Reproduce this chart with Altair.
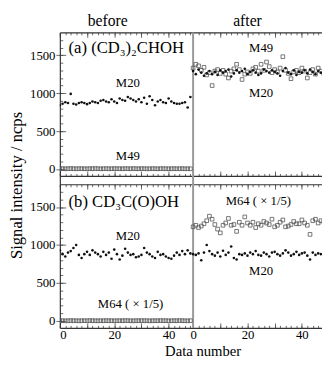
import altair as alt
import pandas as pd

FONT = "Liberation Serif"
OFFSET = 49          # "after" panel starts at combined x = 49
XMAX = 96.4          # right edge of the visible (cropped) plot
SHIFT = 2000         # panel (a) sits above panel (b) on one shared y scale
W, H = 268, 302
YMIN, YMAX = -90, 1800
UNIT = H / (SHIFT + YMAX - YMIN)          # pixels per y unit
PANEL_H = (YMAX - YMIN) * UNIT            # height of one panel in pixels

idx = list(range(49))

# ---------------- (a) (CD3)2CHOH ----------------
a_before_M20 = [840, 860, 880, 870, 990, 860, 850, 870, 880, 870,
                855, 870, 890, 880, 870, 900, 910, 890, 880, 920,
                890, 870, 930, 910, 900, 950, 930, 910, 890, 920,
                880, 940, 860, 960, 910, 840, 890, 910, 880, 870,
                930, 890, 870, 860, 860, 870, 880, 810, 950]
a_before_M49 = [5, 6, 4, 5, 7, 5, 4, 6, 5, 5,
                4, 6, 5, 7, 5, 4, 5, 6, 4, 5,
                6, 5, 5, 4, 6, 5, 4, 7, 5, 4,
                6, 5, 4, 4, 6, 5, 4, 5, 6, 4,
                5, 4, 6, 4, 5, 6, 4, 5, 4]
a_after_M20 = [1290, 1250, 1310, 1270, 1230, 1260, 1290, 1250, 1280, 1240,
               1300, 1270, 1290, 1310, 1220, 1260, 1300, 1270, 1290, 1320,
               1250, 1280, 1300, 1270, 1240, 1260, 1310, 1290, 1270, 1300,
               1280, 1260, 1230, 1290, 1330, 1270, 1250, 1300, 1240, 1280,
               1270, 1300, 1260, 1310, 1280, 1250, 1290, 1270, 1260]
a_after_M49 = [1330, 1380, 1360, 1300, 1340, 1240, 1270, 1100, 1290, 1310,
               1260, 1300, 1250, 1200, 1290, 1320, 1380, 1310, 1180, 1250,
               1280, 1260, 1320, 1340, 1290, 1380, 1300, 1410, 1350, 1270,
               1310, 1280, 1330, 1480, 1300, 1260, 1190, 1280, 1300, 1270,
               1330, 1290, 1200, 1270, 1310, 1250, 1330, 1290, 1260]

# ---------------- (b) CD3C(O)OH ----------------
b_before_M20 = [930, 880, 850, 900, 920, 960, 1000, 870, 830, 880,
                910, 870, 930, 900, 880, 850, 910, 870, 900, 820,
                940, 880, 810, 860, 950, 900, 870, 880, 840, 850,
                870, 960, 900, 880, 850, 830, 910, 870, 880, 850,
                830, 820, 860, 900, 870, 920, 880, 930, 890]
b_before_M64 = [3, 4, 2, 3, 5, 3, 4, 2, 3, 4,
                3, 5, 4, 3, 2, 4, 3, 5, 3, 4,
                2, 3, 4, 3, 5, 4, 3, 2, 4, 3,
                5, 3, 4, 2, 3, 4, 3, 5, 3, 4,
                2, 3, 4, 3, 5, 4, 3, 2, 4]
b_after_M20 = [880, 870, 890, 800, 900, 1000, 920, 880, 860, 900,
               850, 925, 870, 900, 980, 830, 810, 880, 870, 890,
               860, 900, 880, 920, 870, 860, 900, 880, 850, 900,
               910, 880, 860, 890, 930, 900, 860, 880, 910, 870,
               890, 900, 860, 810, 900, 870, 890, 880, 870]
b_after_M64 = [1240, 1260, 1230, 1250, 1280, 1320, 1380, 1340, 1270, 1210,
               1160, 1260, 1290, 1350, 1260, 1270, 1180, 1300, 1260, 1370,
               1290, 1260, 1300, 1230, 1280, 1260, 1310, 1290, 1270, 1340,
               1240, 1260, 1300, 1330, 1240, 1250, 1270, 1310, 1280, 1280,
               1330, 1290, 1260, 1140, 1320, 1340, 1290, 1320, 1310]

# ---------------- annotations ----------------
a_label_text = ["M20", "M49", "M49", "M20"]
a_label_x = [25, 25, 74, 74]
a_label_y = [1137, 170, 1587, 1000]
b_label_text = ["M20", "M64 ( \u00d7 1/5)", "M64 ( \u00d7 1/5)", "M20"]
b_label_x = [25, 26, 73, 74]
b_label_y = [1112, 223, 1575, 661]
a_panel = ["(a) (CD\u2083)\u2082CHOH"]
b_panel = ["(b) CD\u2083C(O)OH"]
panel_x = [3.2]
a_panel_y = [1587]
b_panel_y = [1562]
header_text = ["before", "after"]
header_x = [17.6, 69]

x_label_ticks = [0, 20, 40]
y_label_ticks = [0, 500, 1000, 1500]

X_SCALE = alt.Scale(domain=[0, XMAX], nice=False, zero=False)
Y_SCALE = alt.Scale(domain=[YMIN, SHIFT + YMAX], nice=False, zero=False)
FRAME = "#333333"
TICKC = "#444444"

x_lab_vals = x_label_ticks + [v + OFFSET for v in x_label_ticks]
x_minor = [v for v in range(0, 49, 2)] + [v + OFFSET for v in range(0, 49, 2) if v + OFFSET <= XMAX]
x_major = [v for v in range(0, 49, 10)] + [v + OFFSET for v in range(0, 49, 10) if v + OFFSET <= XMAX]
y_lab_vals = y_label_ticks + [v + SHIFT for v in y_label_ticks]
y_minor = list(range(0, 1800, 100)) + [v + SHIFT for v in range(0, 1800, 100)]


def ax(**kw):
    base = dict(title=None, grid=False, labels=False, ticks=False, domain=False)
    base.update(kw)
    return alt.Axis(**base)


def frame_axis(orient, offset, values, size, domain):
    kw = dict(orient=orient, offset=offset, ticks=True, tickSize=size, tickColor=TICKC,
              tickWidth=0.8, values=values)
    if domain:
        kw.update(domain=True, domainColor=FRAME, domainWidth=1.2)
    return ax(**kw)


# x axes: labels + the four horizontal frame lines with inward ticks
ax_lab = ax(orient="bottom", values=x_lab_vals, labels=True, labelFont=FONT, labelFontSize=13,
            labelColor="black", labelPadding=1,
            labelExpr="datum.value >= 49 ? datum.value - 49 : datum.value",
            title="Data number", titleFont=FONT, titleFontSize=15, titleFontWeight="normal",
            titleColor="black", titleX=146, titleY=28, titleBaseline="alphabetic")
ax_bottom = frame_axis("top", -H, x_minor, 2.5, True)
ax_bottom_M = frame_axis("top", -H, x_major, 5, False)
ax_top = frame_axis("bottom", -H, x_minor, 2.5, True)
ax_top_M = frame_axis("bottom", -H, x_major, 5, False)
ax_a_bot = frame_axis("top", -PANEL_H, x_minor, 2.5, True)
ax_a_bot_M = frame_axis("top", -PANEL_H, x_major, 5, False)
ax_b_top = frame_axis("bottom", -PANEL_H, x_minor, 2.5, True)
ax_b_top_M = frame_axis("bottom", -PANEL_H, x_major, 5, False)

# y axes: labelled left axis + inward ticks
ay_lab = ax(orient="left", domain=True, domainColor=FRAME, domainWidth=1.2,
            values=y_lab_vals, ticks=True, tickSize=4, tickColor=TICKC, tickWidth=0.8,
            labels=True, labelFont=FONT, labelFontSize=13, labelColor="black",
            labelPadding=1,
            labelExpr=f"datum.value >= {SHIFT} ? datum.value - {SHIFT} : datum.value",
            title="Signal intensity / ncps", titleFont=FONT, titleFontSize=17,
            titleFontWeight="normal", titleColor="black", titlePadding=4, titleY=156)
ay_in = frame_axis("right", -W, y_minor, 3, False)
ay_in_M = frame_axis("right", -W, y_lab_vals, 6, False)

xs = idx + [i + OFFSET for i in idx]
dots_a = pd.DataFrame({"x": xs, "y": a_before_M20 + a_after_M20})
dots_b = pd.DataFrame({"x": xs, "y": b_before_M20 + b_after_M20})
sqs_a = pd.DataFrame({"x": xs, "y": a_before_M49 + a_after_M49})
sqs_b = pd.DataFrame({"x": xs, "y": b_before_M64 + b_after_M64})
labs_a = pd.DataFrame({"x": a_label_x, "y": a_label_y, "t": a_label_text})
labs_b = pd.DataFrame({"x": b_label_x, "y": b_label_y, "t": b_label_text})
pan_a = pd.DataFrame({"x": panel_x, "y": a_panel_y, "t": a_panel})
pan_b = pd.DataFrame({"x": panel_x, "y": b_panel_y, "t": b_panel})
rule = pd.DataFrame({"x": [OFFSET]})
head = pd.DataFrame({"x": header_x, "t": header_text})

SHIFT_EXPR = f"datum.y + {SHIFT}"


def X(axis):
    return alt.X("x:Q", scale=X_SCALE, axis=axis)


def Y(field, axis):
    return alt.Y(f"{field}:Q", scale=Y_SCALE, axis=axis)


dot_mark = dict(shape="circle", filled=True, size=7, color="#111111", opacity=1, clip=True)
sq_mark = dict(shape="square", filled=False, size=14, color="#555555", strokeWidth=0.8,
               opacity=1, clip=True)

l_rule = alt.Chart(rule).mark_rule(color="#999999", strokeWidth=2).encode(x=X(ax_top))
l_sq_a = alt.Chart(sqs_a).transform_calculate(yy=SHIFT_EXPR).mark_point(**sq_mark).encode(
    x=X(ax_bottom), y=Y("yy", ay_in))
l_sq_b = alt.Chart(sqs_b).mark_point(**sq_mark).encode(
    x=X(ax_bottom_M), y=Y("y", ay_in_M))
l_dot_a = alt.Chart(dots_a).transform_calculate(yy=SHIFT_EXPR).mark_point(**dot_mark).encode(
    x=X(ax_lab), y=Y("yy", ay_lab))
l_dot_b = alt.Chart(dots_b).mark_point(**dot_mark).encode(
    x=X(ax_top_M), y=Y("y", None))
l_lab_a = alt.Chart(labs_a).transform_calculate(yy=SHIFT_EXPR).mark_text(
    font=FONT, fontSize=13, color="black", baseline="middle").encode(
    x=X(ax_a_bot), y=Y("yy", None), text="t:N")
l_lab_b = alt.Chart(labs_b).mark_text(
    font=FONT, fontSize=13, color="black", baseline="middle").encode(
    x=X(ax_a_bot_M), y=Y("y", None), text="t:N")
l_pan_a = alt.Chart(pan_a).transform_calculate(yy=SHIFT_EXPR).mark_text(
    font=FONT, fontSize=17, color="black", align="left", baseline="middle").encode(
    x=X(ax_b_top), y=Y("yy", None), text="t:N")
l_pan_b = alt.Chart(pan_b).mark_text(
    font=FONT, fontSize=17, color="black", align="left", baseline="middle").encode(
    x=X(ax_b_top_M), y=Y("y", None), text="t:N")
l_head = alt.Chart(head).mark_text(font=FONT, fontSize=16, color="black",
                                   baseline="alphabetic").encode(
    x=X(None), y=alt.value(-7), text="t:N")

chart = alt.layer(l_rule, l_sq_a, l_sq_b, l_dot_a, l_dot_b, l_lab_a, l_lab_b,
                  l_pan_a, l_pan_b, l_head).resolve_scale(
    x="shared", y="shared").resolve_axis(x="independent", y="independent").properties(
    width=W, height=H,
    autosize=alt.AutoSizeParams(type="none"),
    padding={"left": 53, "top": 21, "right": 0, "bottom": 30},
).configure_view(strokeWidth=0)

chart.save("out.html", embed_options={"renderer": "svg", "actions": False})
